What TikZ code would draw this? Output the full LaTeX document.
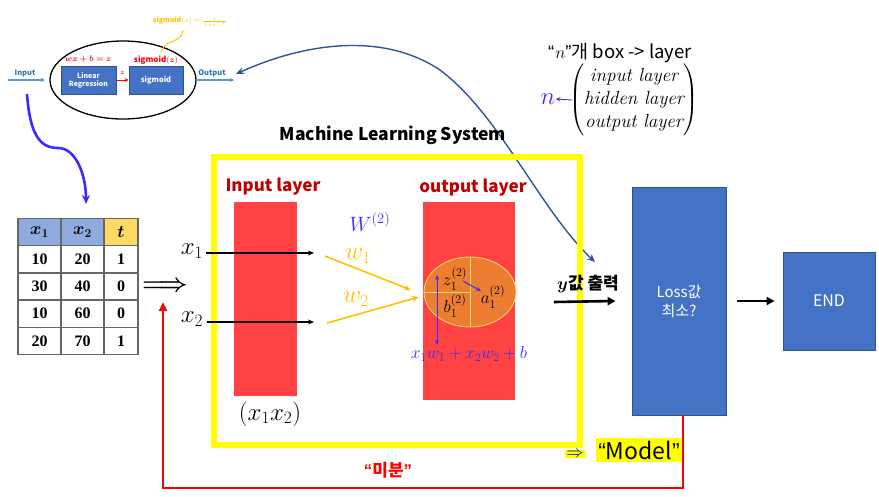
\documentclass[tikz,border=0pt]{standalone}
\usepackage{fontspec}
\usepackage{amsmath,bm}
\usetikzlibrary{arrows.meta,shapes.geometric,calc}
\newfontfamily\kr{Noto Sans CJK KR}
\newfontfamily\lsans{Liberation Sans}
\newfontfamily\lserif{Liberation Serif}
\newcommand\myoq{{\lsans “}}
\newcommand\mycq{{\lsans ”}}
\definecolor{pptblue}{HTML}{4472C4}
\definecolor{pptblueD}{HTML}{2F528F}
\definecolor{lred}{HTML}{FF4343}
\definecolor{dred}{HTML}{C00000}
\definecolor{orng}{HTML}{ED7D31}
\definecolor{gold}{HTML}{FFC000}
\definecolor{vblue}{HTML}{3B2BFF}
\definecolor{curveblue}{HTML}{2F5597}
\definecolor{hdrblue}{HTML}{8FAADC}
\definecolor{hdryel}{HTML}{FFD966}
\definecolor{ylw}{HTML}{FFFF00}
\definecolor{smblue}{HTML}{2E75B6}
\definecolor{lblue}{HTML}{5B9BD5}
\tikzset{
  pbox/.style={draw=pptblueD, fill=pptblue, line width=0.8, text=white, align=center, inner sep=0},
  redrect/.style={fill=lred, draw=none, inner sep=0},
  cell/.style={draw=black!60, line width=1.4, minimum height=27.2, inner sep=0, font=\lserif\bfseries\fontsize{16}{16}\selectfont},
  thinarr/.style={line width=1.4, -{Stealth[length=6,width=5]}},
  fatarr/.style={line width=2.6, -{Triangle[length=8,width=8]}},
  lbl/.style={inner sep=0},
}
\begin{document}
\begin{tikzpicture}[x=1pt,y=-1pt]
\useasboundingbox (0,0) rectangle (879,496);

% ---------- small top-left diagram ----------
\node[draw, ellipse, line width=1.3, minimum width=146, minimum height=78] (ell) at (123,80) {};
\node[pbox, minimum width=55, minimum height=28, font=\kr\bfseries\fontsize{7}{8}\selectfont] (lin) at (88.5,80) {Linear\\Regression};
\node[pbox, minimum width=54, minimum height=28, font=\kr\bfseries\fontsize{7.5}{8}\selectfont] (sig) at (156,80) {sigmoid};
\node[lbl, text=red, font=\fontsize{8.5}{8.5}\selectfont] (wxb) at (88,59) {$\bm{wx+b=z}$};
\node[lbl, text=red, font=\kr\bfseries\fontsize{8}{8}\selectfont] (sigz) at (156,60) {sigmoid$(\bm{z})$};
\draw[red, line width=1, -{Stealth[length=4,width=4]}] (lin.east) -- (sig.west);
\node[lbl, text=red, font=\fontsize{6.5}{6.5}\selectfont] (zl) at (122.5,73) {$\bm{z}$};
\node[lbl, text=smblue, font=\kr\bfseries\fontsize{7.5}{8}\selectfont] (inl) at (25,73) {Input};
\coordinate (inS) at (8,80); \coordinate (inE) at (45,80);
\draw[lblue, line width=1.1, -{Stealth[length=4,width=4]}] (inS) -- (inE);
\node[lbl, text=smblue, font=\kr\bfseries\fontsize{7.5}{8}\selectfont] (outl) at (212,73) {Output};
\coordinate (outS) at (196,80); \coordinate (outE) at (234,80);
\draw[lblue, line width=1.1, -{Stealth[length=4,width=4]}] (outS) -- (outE);
\node[lbl, text=gold, font=\kr\bfseries\fontsize{7}{7}\selectfont] (sigf) at (190,22) {sigmoid$(x)=\frac{1}{1+e^{-x}}$};
\coordinate (sq1) at (183,30); \coordinate (sq2) at (161,52);
\draw[gold, line width=0.9] (sq1) .. controls (181,45) and (168,36) .. (sq2);

% ---------- curves ----------
\coordinate (cA) at (236,74); \coordinate (cM) at (440,70); \coordinate (cB) at (595,262);
\draw[curveblue, line width=1.4, {Stealth[length=8,width=7]}-{Stealth[length=8,width=7]}]
  (cA) .. controls (300,45) and (380,30) .. (cM) .. controls (500,115) and (540,210) .. (cB);
\coordinate (bA) at (27,94); \coordinate (bM) at (58,148); \coordinate (bB) at (86,204);
\draw[vblue, line width=2.6, -{Stealth[length=9,width=8]}]
  (bA) .. controls (30,135) and (40,148) .. (bM) .. controls (76,148) and (86,175) .. (bB);

% ---------- table ----------
\foreach \a/\b/\c [count=\i] in {10/20/1,30/40/0,10/60/0,20/70/1}{
  \node[cell, minimum width=43] (t\i a) at (39.5,232+27.2*\i) {\a};
  \node[cell, minimum width=43] (t\i b) at (82.5,232+27.2*\i) {\b};
  \node[cell, minimum width=34] (t\i c) at (121,232+27.2*\i) {\c};
}
\node[cell, minimum width=43, fill=hdrblue, font=\fontsize{17}{17}\selectfont] (h1) at (39.5,232) {$\bm{x_1}$};
\node[cell, minimum width=43, fill=hdrblue, font=\fontsize{17}{17}\selectfont] (h2) at (82.5,232) {$\bm{x_2}$};
\node[cell, minimum width=34, fill=hdryel, font=\fontsize{17}{17}\selectfont] (h3) at (121,232) {$\bm{t}$};
\node[lbl, font=\fontsize{31}{31}\selectfont] (dbl) at (165,287) {$\bm{\Longrightarrow}$};

% ---------- machine learning system ----------
\node[lbl, font=\kr\bfseries\fontsize{17.5}{17.5}\selectfont] (mlt) at (393,135) {Machine Learning System};
\node[draw=ylw, line width=6, minimum width=366, minimum height=288, inner sep=0] (mls) at (397,301) {};
\node[redrect, minimum width=63, minimum height=194] (inr) at (265.5,299) {};
\node[redrect, minimum width=92, minimum height=198] (outr) at (469,301) {};
\node[lbl, text=dred, font=\kr\bfseries\fontsize{17}{17}\selectfont] (inlt) at (273,187) {Input layer};
\node[lbl, text=dred, font=\kr\bfseries\fontsize{17}{17}\selectfont] (outlt) at (473,188) {output layer};
\node[lbl, font=\fontsize{24}{24}\selectfont] (x1) at (192,251) {$x_1$};
\node[lbl, font=\fontsize{24}{24}\selectfont] (x2) at (192,319) {$x_2$};
\coordinate (x1s) at (206,253); \coordinate (x1e) at (314,253);
\coordinate (x2s) at (207,322); \coordinate (x2e) at (314,322);
\draw[thinarr] (x1s) -- (x1e);
\draw[thinarr] (x2s) -- (x2e);
\node[lbl, text=vblue, font=\fontsize{21}{21}\selectfont] (W) at (370,222) {$W^{(2)}$};
\node[lbl, text=gold, font=\fontsize{23}{23}\selectfont] (w1) at (358,256) {$w_1$};
\node[lbl, text=gold, font=\fontsize{23}{23}\selectfont] (w2) at (356,299) {$w_2$};
\node[draw=hdryel, line width=0.8, fill=orng, ellipse, minimum width=92, minimum height=70, inner sep=0] (neu) at (470,292) {};
\coordinate (w1s) at (325,256); \coordinate (w1e) at (411,290);
\coordinate (w2s) at (327,323); \coordinate (w2e) at (419,297);
\draw[gold, line width=1.6, -{Stealth[length=7,width=6]}] (w1s) -- (w1e);
\draw[gold, line width=1.6, -{Stealth[length=7,width=6]}] (w2s) -- (w2e);
\draw[hdryel, line width=0.8] (neu.north) -- (neu.south);
\draw[hdryel, line width=0.8] (neu.west) -- (neu.center);
\node[lbl, font=\fontsize{18}{18}\selectfont] (zn) at (455,279) {$z_1^{(2)}$};
\node[lbl, font=\fontsize{18}{18}\selectfont] (bn) at (455,306) {$b_1^{(2)}$};
\node[lbl, font=\fontsize{18}{18}\selectfont] (an) at (493,297) {$a_1^{(2)}$};
\coordinate (vt) at (437,275); \coordinate (vb) at (437,345);
\draw[vblue, line width=1, {Stealth[length=5,width=4]}-{Stealth[length=5,width=4]}] (vt) -- (vb);
\coordinate (st) at (463,281); \coordinate (se) at (481,291);
\draw[vblue, line width=1, -{Stealth[length=5,width=4]}] (st) -- (se);
\node[lbl, text=vblue, font=\fontsize{17}{17}\selectfont] (sum) at (469,354) {$x_1w_1+x_2w_2+b$};
\node[lbl, font=\fontsize{24}{24}\selectfont] (pair) at (270,414) {$(x_1x_2)$};

% ---------- loss / end ----------
\node[pbox, minimum width=94, minimum height=228, font=\kr\fontsize{15}{19}\selectfont] (loss) at (679,301) {Loss값\\최소?};
\node[pbox, minimum width=92, minimum height=98, font=\kr\fontsize{16}{16}\selectfont] (end) at (829,301) {END};
\coordinate (ys) at (554,302);
\draw[fatarr] (ys) -- ([xshift=-16]loss.west);
\node[lbl, font=\fontsize{18}{18}\selectfont] (yl) at (588,284) {$\bm{y}${\kr\bfseries\fontsize{17}{17}\selectfont 값 출력}};
\draw[fatarr] ([xshift=11]loss.east) -- ([xshift=-8]end.west);

% ---------- feedback ----------
\coordinate (fb1) at (163,488); \coordinate (fb2) at (163,302);
\draw[red, line width=2.6, -{Triangle[length=9,width=8]}] ([xshift=4]loss.south) |- (fb1) -- (fb2);
\node[lbl, text=red, font=\kr\bfseries\fontsize{17}{17}\selectfont] (mibun) at (388,470) {\myoq 미분\mycq};
\node[fill=ylw, inner sep=1, font=\fontsize{17}{17}\selectfont] (mdar) at (575,454) {$\Rightarrow$};
\node[fill=ylw, inner xsep=2, inner ysep=3, font=\kr\fontsize{23}{23}\selectfont] (model) at (639,450) {\myoq Model\mycq};

% ---------- top right ----------
\node[lbl, font=\kr\fontsize{18.5}{18.5}\selectfont] (nbox) at (620,53) {\myoq\hspace{1pt}$n$\mycq 개 box -> layer};
\node[lbl, font=\fontsize{19}{23}\selectfont] (mat) at (634,100) {$\left(\begin{array}{@{}c@{}}\textit{input layer}\\ \textit{hidden layer}\\ \textit{output layer}\end{array}\right)$};
\node[lbl, text=vblue, font=\fontsize{24}{24}\selectfont] (nn) at (548,99) {$n$};
\coordinate (na) at (572,100);
\draw[vblue, line width=0.9, -{Stealth[length=5,width=4]}] (na) -- (nn.east);
\end{tikzpicture}
\end{document}
